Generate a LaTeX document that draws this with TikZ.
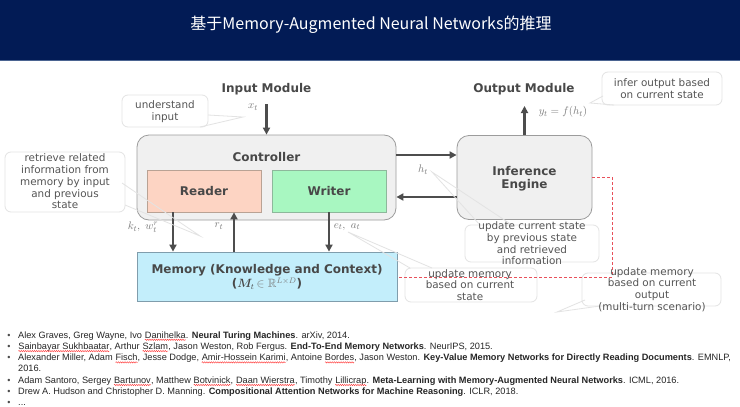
\documentclass[tikz,border=0pt]{standalone}
\usepackage[no-math]{fontspec}
\usepackage{amsmath,amssymb}
\setmainfont{DejaVu Sans}
\newfontfamily\cjk{Noto Sans CJK SC}
\newfontfamily\reffont{Liberation Sans}
\usetikzlibrary{arrows.meta,decorations.pathmorphing}
\definecolor{navy}{HTML}{021B55}
\definecolor{navyline}{HTML}{4B6491}
\definecolor{lblgray}{HTML}{484848}
\definecolor{ctrlfill}{HTML}{F0F0F0}
\definecolor{ctrldraw}{HTML}{9C9C9C}
\definecolor{readfill}{HTML}{FDD4C3}
\definecolor{readdraw}{HTML}{B9A294}
\definecolor{writefill}{HTML}{A8F7C1}
\definecolor{writedraw}{HTML}{8DB89B}
\definecolor{memfill}{HTML}{C3EEFB}
\definecolor{memdraw}{HTML}{809DAC}
\definecolor{calldraw}{HTML}{E3E3E3}
\definecolor{calltext}{HTML}{555555}
\definecolor{mathgray}{HTML}{7A7A7A}
\definecolor{arrgray}{HTML}{4D4D4D}
\definecolor{reddash}{HTML}{E8505A}
\newcommand{\sq}[1]{\tikz[baseline=(sqw.base), x=1pt, y=1pt]{\node[inner sep=0pt, outer sep=0pt, anchor=base west] (sqw) at (0,0) {#1}; \draw[red!80, line width=0.4pt, decorate, decoration={snake, amplitude=0.7pt, segment length=2.2pt}] ([yshift=-1.8pt]sqw.base west) -- ([yshift=-1.8pt]sqw.base east);}}
\tikzset{
  lbl/.style={font=\fontsize{12}{13.5}\selectfont\bfseries, text=lblgray, align=center, inner sep=0pt},
  blk/.style={inner sep=0pt, line width=0.8pt},
  arr/.style={draw=arrgray, line width=2.2pt, -{Triangle[length=7pt,width=7pt]}},
  mth/.style={text=mathgray, inner sep=0pt, font=\fontsize{11}{12}\selectfont},
  callbox/.style={draw=calldraw, fill=white, rounded corners=6pt, line width=0.8pt, inner sep=0pt},
  calltxt/.style={text=calltext, align=center, inner sep=0pt, font=\fontsize{10.4}{11.7}\selectfont},
  ptr/.style={draw=calldraw, line width=0.8pt},
  reftxt/.style={anchor=base west, inner sep=0pt, font=\reffont\fontsize{9.2}{11}\selectfont, text=black!85},
  bul/.style={anchor=base, inner sep=0pt, font=\reffont\fontsize{9}{11}\selectfont, text=black!70}
}
\begin{document}
\begin{tikzpicture}[x=1pt, y=-1pt]
\useasboundingbox (0,0) rectangle (740,407);
\fill[white] (0,0) rectangle (740,407);
% header
\fill[navy] (0,0) rectangle (740,60);
\draw[navyline, line width=1.5pt] (0,60.5) -- (740,60.5);
\node[text=white, inner sep=0pt] (title) at (371,24.5) {\resizebox{361pt}{!}{\cjk\fontsize{17}{20}\selectfont 基于Memory-Augmented Neural Networks的推理}};

% callout boxes (behind)
\node[callbox, minimum width=86pt, minimum height=32pt] (cu) at (165,111) {};
\node[calltxt] (cut) at (165,111.5) {understand\\input};
\node[callbox, minimum width=120pt, minimum height=33pt] (ci) at (662,88.5) {};
\node[calltxt] (cit) at (662,88.5) {infer output based\\on current state};
\node[callbox, minimum width=120pt, minimum height=60pt] (cr) at (65,182) {};
\node[calltxt] (crt) at (65,181.5) {retrieve related\\information from\\memory by input\\and previous\\state};
\node[callbox, minimum width=134pt, minimum height=37pt] (cs) at (532,243.5) {};
\node[callbox, minimum width=132pt, minimum height=34pt] (cm) at (471,285) {};
\node[callbox, minimum width=139pt, minimum height=33pt] (co) at (651.5,289.5) {};

% main blocks
\node[blk, draw=ctrldraw, fill=ctrlfill, rounded corners=12pt, minimum width=259pt, minimum height=85pt] (ctrl) at (266.5,177.5) {};
\node[lbl] (ctrlt) at (266.5,157) {Controller};
\node[blk, draw=readdraw, fill=readfill, minimum width=114pt, minimum height=42pt] (reader) at (204,191) {};
\node[lbl] (readert) at (204,191) {Reader};
\node[blk, draw=writedraw, fill=writefill, minimum width=114pt, minimum height=42pt] (writer) at (329,191) {};
\node[lbl] (writert) at (329,191) {Writer};
\node[blk, draw=memdraw, fill=memfill, minimum width=260pt, minimum height=49pt] (mem) at (267,276.5) {};
\node[lbl] (memt) at (267,277) {Memory (Knowledge and Context)\\[0.5pt]($\boldsymbol{M}_{\!t}\,\textcolor{mathgray}{\in\mathbb{R}^{L\times D}}$)};
\node[blk, draw=ctrldraw, fill=ctrlfill, rounded corners=12pt, minimum width=135pt, minimum height=84pt] (eng) at (524.5,177.5) {};
\node[lbl] (engt) at (524.5,178.5) {Inference\\Engine};
\node[lbl] (inmod) at (266.5,89) {Input Module};
\node[lbl] (outmod) at (524,89) {Output Module};

% connectors
\coordinate (xin) at (266.5,104);
\coordinate (yout) at (524.5,106);
\coordinate (kx) at (173,0);
\coordinate (rx) at (234,0);
\coordinate (ex) at (329,0);
\draw[arr] (xin) -- (ctrl.north);
\draw[arr] (eng.north) -- (yout);
\draw[arr] ([yshift=22.5pt]ctrl.east) -- ([yshift=22.5pt]eng.west);
\draw[arr] ([yshift=-19.5pt]eng.west) -- ([yshift=-19.5pt]ctrl.east);
\draw[arr] (reader.south -| kx) -- (mem.north -| kx);
\draw[arr] (mem.north -| rx) -- (reader.south -| rx);
\draw[arr] (writer.south -| ex) -- (mem.north -| ex);

% math labels
\node[mth] (xl) at (253,107) {$x_t$};
\node[mth] (kl) at (143,227) {$k_t,\ w_t^r$};
\node[mth] (rl) at (219,226) {$r_t$};
\node[mth] (el) at (347,227) {$e_t,\ a_t$};
\node[mth] (hl) at (423,170) {$h_t$};
\node[mth] (yl) at (563,112) {$y_t = f(h_t)$};

% red dashed feedback
\coordinate (rd1) at (612,177);
\coordinate (rd2) at (612,277);
\draw[reddash, line width=0.8pt, dash pattern=on 3pt off 2pt] ([yshift=0.5pt]eng.east) -- (rd1) -- (rd2) -- (mem.east |- rd2);

% callout pointers
\coordinate (p1) at (243,117);
\draw[ptr] (200,127) -- (p1) -- (208,115);
\coordinate (p2) at (590,103);
\draw[ptr] (603,96) -- (p2) -- (614,105);
\coordinate (p3) at (200,236);
\draw[ptr] (122,183) -- (p3) -- (125,205);
\coordinate (p4) at (432,172);
\draw[ptr] (480,225) -- (p4) -- (512,225);
\coordinate (p5) at (348,232);
\draw[ptr] (410,268) -- (p5) -- (432,268);
\coordinate (p6) at (557,312);
\draw[ptr] (585,300) -- (p6) -- (600,306);

% callout texts on top
\node[calltxt] (cst) at (532,243.5) {update current state\\by previous state\\and retrieved\\information};
\node[calltxt] (cmt) at (470,285) {update memory\\based on current\\state};
\node[calltxt] (cot) at (652,289.5) {update memory\\based on current\\output\\(multi-turn scenario)};

% references
\node[bul] (b1) at (9,338) {•};
\node[reftxt] (r1) at (18,338) {Alex Graves, Greg Wayne, Ivo \sq{Danihelka}. \textbf{Neural Turing Machines}. arXiv, 2014.};
\node[bul] (b2) at (9,349.3) {•};
\node[reftxt] (r2) at (18,349.3) {\sq{Sainbayar Sukhbaatar}, Arthur \sq{Szlam}, Jason Weston, Rob Fergus. \textbf{End-To-End Memory Networks}. NeurIPS, 2015.};
\node[bul] (b3) at (9,360.6) {•};
\node[reftxt] (r3) at (18,360.6) {Alexander Miller, Adam \sq{Fisch}, Jesse Dodge, \sq{Amir-Hossein Karimi}, Antoine \sq{Bordes}, Jason Weston. \textbf{Key-Value Memory Networks for Directly Reading Documents}. EMNLP,};
\node[reftxt] (r3b) at (18,371.9) {2016.};
\node[bul] (b4) at (9,383.2) {•};
\node[reftxt] (r4) at (18,383.2) {Adam Santoro, Sergey \sq{Bartunov}, Matthew \sq{Botvinick}, \sq{Daan Wierstra}, Timothy \sq{Lillicrap}. \textbf{Meta-Learning with Memory-Augmented Neural Networks}. ICML, 2016.};
\node[bul] (b5) at (9,394.5) {•};
\node[reftxt] (r5) at (18,394.5) {Drew A. Hudson and Christopher D. Manning. \textbf{Compositional Attention Networks for Machine Reasoning}. ICLR, 2018.};
\node[bul] (b6) at (9,405.8) {•};
\node[reftxt] (r6) at (18,405.8) {...};
\end{tikzpicture}
\end{document}
